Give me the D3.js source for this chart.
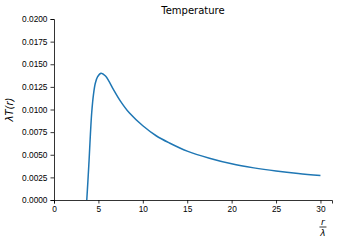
<!DOCTYPE html>
<html>
<head>
<meta charset="UTF-8"/>
<script src="https://d3js.org/d3.v7.min.js"></script>
<style>
  body { margin: 0; background: #fff; }
  svg { font-family: "DejaVu Sans", sans-serif; }
  .axis path, .axis line { stroke: #000; stroke-width: 0.8px; }
  .axis text { fill: #000; font-size: 8.3px; }
</style>
</head>
<body>
<script>
// values
var rValues = [3.69, 3.8, 3.95, 4.1, 4.25, 4.45, 4.65, 4.9, 5.3, 5.8, 6.2, 6.7, 7.5, 8.5, 10, 11.5, 13, 15, 17.5, 20, 22.5, 25, 27.5, 30];
var tValues = [0, 0.0018, 0.0044, 0.0073, 0.0097, 0.0117, 0.0129, 0.0136, 0.0140, 0.0137, 0.0131, 0.0122, 0.0109, 0.0096, 0.0082, 0.0071, 0.0063, 0.0054, 0.00462, 0.0040, 0.00355, 0.0032, 0.00292, 0.0027];
var xTicks = [0, 5, 10, 15, 20, 25, 30];
var yTicks = [0, 0.0025, 0.005, 0.0075, 0.01, 0.0125, 0.015, 0.0175, 0.02];

var W = 340, H = 241;
var margin = {top: 19, right: 8, bottom: 41, left: 54};

var svg = d3.select("body").append("svg")
    .attr("width", W)
    .attr("height", H);

var x = d3.scaleLinear().domain([0, 31.3]).range([margin.left, W - margin.right]);
var y = d3.scaleLinear().domain([0, 0.02]).range([H - margin.bottom, margin.top]);

var data = rValues.map(function(r, i) { return {r: r, t: tValues[i]}; });

svg.append("g")
    .attr("class", "axis")
    .attr("transform", "translate(0," + y(0) + ")")
    .call(d3.axisBottom(x).tickValues(xTicks).tickFormat(d3.format("d")).tickSizeOuter(0).tickSize(3.5).tickPadding(3));

svg.append("g")
    .attr("class", "axis")
    .attr("transform", "translate(" + x(0) + ",0)")
    .call(d3.axisLeft(y).tickValues(yTicks).tickFormat(d3.format(".4f")).tickSizeOuter(0).tickSize(3.5).tickPadding(3));

var line = d3.line()
    .x(function(d) { return x(d.r); })
    .y(function(d) { return y(d.t); })
    .curve(d3.curveCatmullRom.alpha(0.5));

svg.append("path")
    .datum(data)
    .attr("fill", "none")
    .attr("stroke", "#1f77b4")
    .attr("stroke-width", 1.5)
    .attr("d", line);

// title
svg.append("text")
    .attr("x", (x.range()[0] + x.range()[1]) / 2)
    .attr("y", 14)
    .attr("text-anchor", "middle")
    .style("font-size", "10px")
    .text("Temperature");

// y label
svg.append("text")
    .attr("transform", "translate(13," + ((y.range()[0] + y.range()[1]) / 2) + ") rotate(-90)")
    .attr("text-anchor", "middle")
    .style("font-size", "10px")
    .style("font-style", "italic")
    .text("λT(r)");

// x label as fraction r / λ
var fx = x(30) + 2.5;
svg.append("text")
    .attr("x", fx).attr("y", 224.5)
    .attr("text-anchor", "middle")
    .style("font-size", "9px")
    .style("font-style", "italic")
    .text("r");
svg.append("line")
    .attr("x1", fx - 3.5).attr("x2", fx + 3.5)
    .attr("y1", 227).attr("y2", 227)
    .attr("stroke", "#000").attr("stroke-width", 0.8);
svg.append("text")
    .attr("x", fx).attr("y", 235.5)
    .attr("text-anchor", "middle")
    .style("font-size", "9px")
    .style("font-style", "italic")
    .text("λ");
</script>
</body>
</html>
